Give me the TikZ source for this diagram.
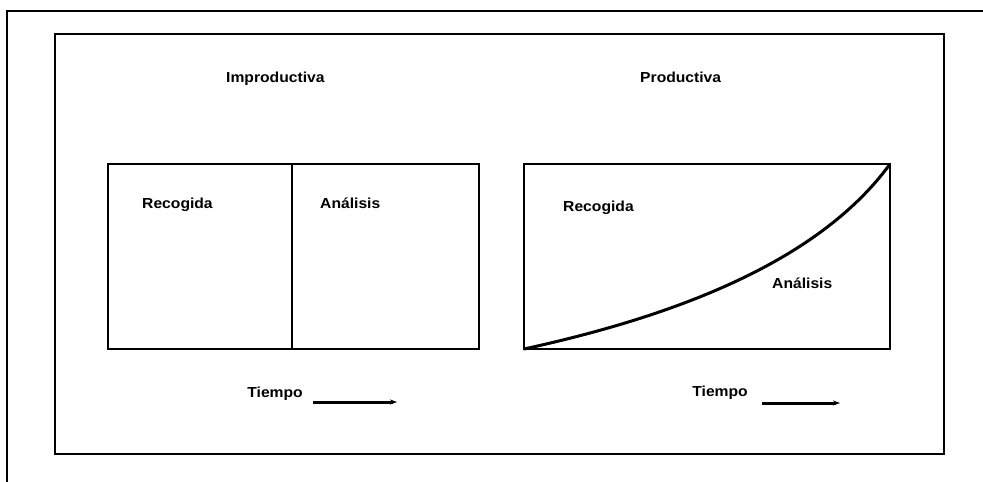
\documentclass[tikz,border=0pt]{standalone}
\usepackage{fontspec}
\setmainfont{Liberation Sans}
\usetikzlibrary{arrows.meta}
\tikzset{
  lbl/.style={font=\fontsize{14.5}{17}\selectfont\bfseries, inner sep=0pt, xscale=1.08},
  frame/.style={line width=1.8pt},
  boxline/.style={line width=2pt},
  curveline/.style={line width=3pt},
  timearrow/.style={line width=3pt, -{Stealth[length=7pt,width=5pt]}}
}
\begin{document}
\begin{tikzpicture}[x=1pt,y=-1pt]
\useasboundingbox (0,0) rectangle (983,482);
% outer frame (only left and top visible)
\coordinate (oa) at (7,482);
\coordinate (ob) at (7,11);
\coordinate (oc) at (983,11);
\draw[frame] (oa) -- (ob) -- (oc);
% inner frame
\coordinate (ia) at (55,34);
\coordinate (ib) at (944,454);
\draw[frame] (ia) rectangle (ib);
% left box
\coordinate (la) at (108,164);
\coordinate (lb) at (479,349);
\draw[boxline] (la) rectangle (lb);
\coordinate (dt) at (291.5,164);
\coordinate (db) at (291.5,349);
\draw[boxline] (dt) -- (db);
% right box
\coordinate (ra) at (524,164);
\coordinate (rb) at (890,349);
\draw[boxline] (ra) rectangle (rb);
\coordinate (cs) at (524,349);
\coordinate (ce) at (890,164);
\draw[curveline] (cs) .. controls (680,315) and (820,260) .. (ce);
% titles
\node[lbl, anchor=base west] (t1) at (226,82) {Improductiva};
\node[lbl, anchor=base west] (t2) at (640,82) {Productiva};
% labels
\node[lbl, anchor=base west] (r1) at (142,208) {Recogida};
\node[lbl, anchor=base west] (a1) at (320,208) {Análisis};
\node[lbl, anchor=base west] (r2) at (563,211) {Recogida};
\node[lbl, anchor=base west] (a2) at (772,288) {Análisis};
% time
\node[lbl, anchor=base east] (tl) at (303,397) {Tiempo};
\node[lbl, anchor=base east] (tr) at (748,396) {Tiempo};
\coordinate (al1) at (313,402);
\coordinate (al2) at (397,402);
\coordinate (ar1) at (762,403);
\coordinate (ar2) at (840,403);
\draw[timearrow] (al1) -- (al2);
\draw[timearrow] (ar1) -- (ar2);
\end{tikzpicture}
\end{document}
